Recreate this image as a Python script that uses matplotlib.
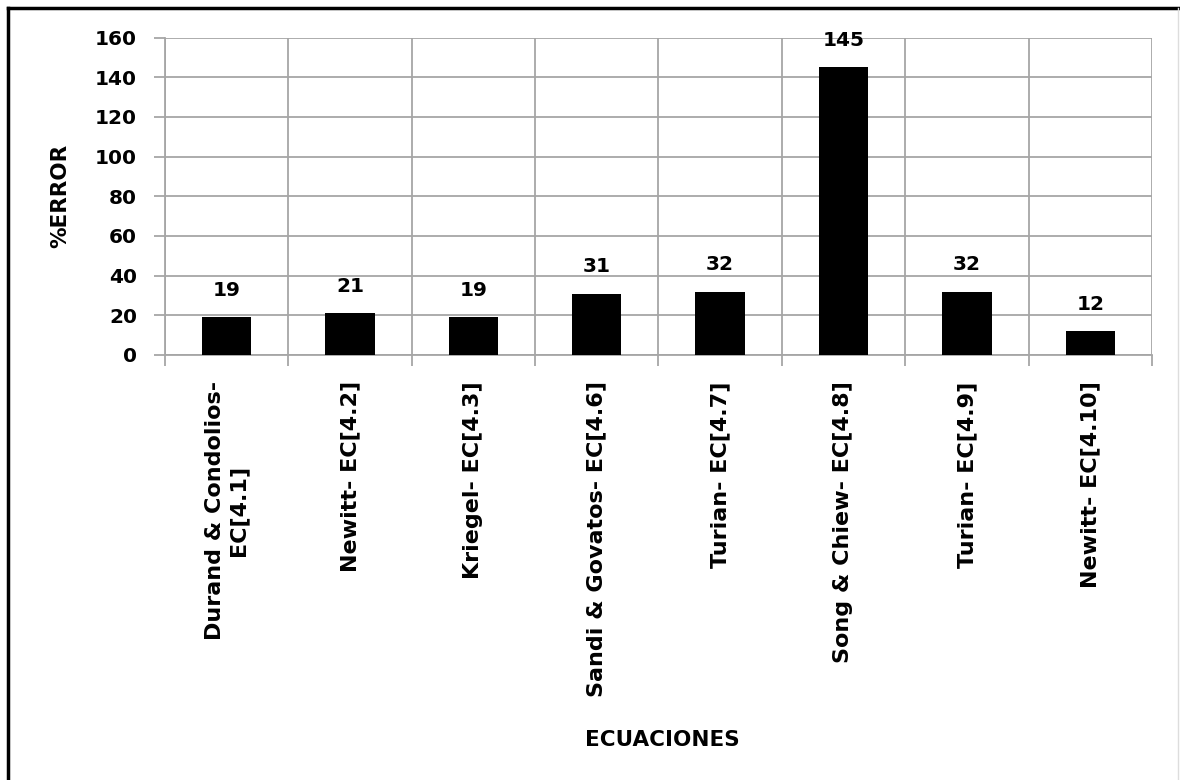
import matplotlib
matplotlib.use("Agg")
import matplotlib.pyplot as plt
import numpy as np
from matplotlib.lines import Line2D

# datos
ecuaciones = [
    "Durand & Condolios-\nEC[4.1]",
    "Newitt- EC[4.2]",
    "Kriegel- EC[4.3]",
    "Sandi & Govatos- EC[4.6]",
    "Turian- EC[4.7]",
    "Song & Chiew- EC[4.8]",
    "Turian- EC[4.9]",
    "Newitt- EC[4.10]",
]
error_pct = [19, 21, 19, 31, 32, 145, 32, 12]
y_ticks = [0, 20, 40, 60, 80, 100, 120, 140, 160]

plt.rcParams['font.family'] = ['DejaVu Sans']
plt.rcParams['font.weight'] = 'bold'

fig = plt.figure(figsize=(11.8, 7.8), dpi=100)
ax = fig.add_axes([0.1398, 0.5449, 0.8364, 0.4068])

x = np.arange(len(ecuaciones))
bars = ax.bar(x, error_pct, width=0.4, color='black', zorder=3)

for xi, v in zip(x, error_pct):
    ax.annotate(str(v), (xi, v), xytext=(0, 27), textcoords='offset pixels',
                ha='center', va='center', fontsize=14.5, fontweight='bold')

grid_col = '#a6a6a6'
ax.set_xlim(-0.5, len(ecuaciones) - 0.5)
ax.set_ylim(0, 160)
ax.set_yticks(y_ticks)
ax.set_xticks(x)
ax.set_xticklabels(ecuaciones, rotation=90, ha='center', va='top',
                   multialignment='center', fontsize=16, fontweight='bold')
ax.set_xticks(np.arange(-0.5, len(ecuaciones)), minor=True)
ax.tick_params(axis='x', which='major', length=0, pad=19)
ax.tick_params(axis='x', which='minor', length=8, color=grid_col, width=1.3)
ax.tick_params(axis='y', length=8, color=grid_col, width=1.3, pad=12, labelsize=14.5)
for lab in ax.get_yticklabels():
    lab.set_fontweight('bold')

ax.grid(True, axis='y', which='major', color=grid_col, linewidth=1.3, zorder=0)
ax.grid(True, axis='x', which='minor', color=grid_col, linewidth=1.3, zorder=0)
ax.grid(False, axis='x', which='major')
for s in ['top', 'right']:
    ax.spines[s].set_visible(False)
for s in ['left', 'bottom']:
    ax.spines[s].set_color(grid_col)
    ax.spines[s].set_linewidth(1.3)

ax.set_ylabel('%ERROR', fontsize=15.5, fontweight='bold', labelpad=18)
fig.text(0.561, 0.051, 'ECUACIONES', ha='center', va='center',
         fontsize=15.5, fontweight='bold')

# marco de la figura
fig.add_artist(Line2D([0.007, 0.999], [0.9895, 0.9895], color='black', lw=2.5))
fig.add_artist(Line2D([0.0072, 0.0072], [0.0, 0.9895], color='black', lw=2.5))
fig.add_artist(Line2D([0.998, 0.998], [0.0, 0.9895], color='#dddddd', lw=1))

fig.savefig('out.png', dpi=100, facecolor='white')
